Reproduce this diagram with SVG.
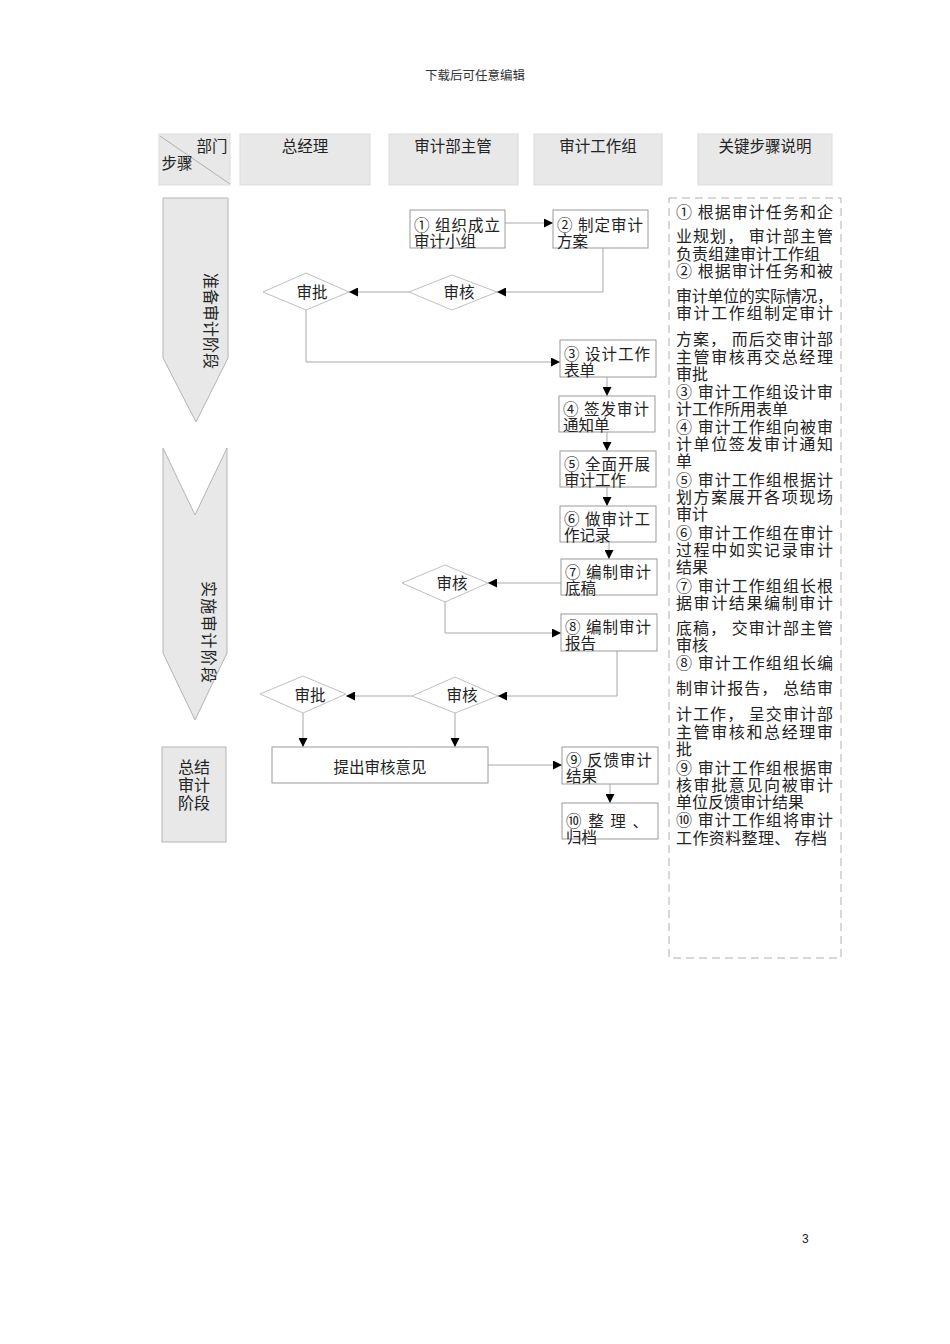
<svg xmlns="http://www.w3.org/2000/svg" width="950" height="1344" viewBox="0 0 950 1344">
<style>
text{font-family:"Noto Sans CJK SC","Noto Sans",sans-serif;fill:#222;}
.hd{fill:#e8e8e8;stroke:#dcdcdc;stroke-width:1}
.ht{font-size:15.5px;text-anchor:middle}
.stage{fill:#e8e8e8;stroke:#b4b4b4;stroke-width:1}
.st{font-size:16px}
.box{fill:#fff;stroke:#9a9a9a;stroke-width:1}
.dia{fill:#fff;stroke:#c0c0c0;stroke-width:1}
.bt{font-size:15.5px}
.dt{font-size:15.5px;text-anchor:middle}
.conn path{fill:none;stroke:#a8a8a8;stroke-width:1;marker-end:url(#ah)}
.note{fill:none;stroke:#b0b0b0;stroke-width:1;stroke-dasharray:8 5}
.nt{font-size:16px}
</style>
<defs>
<marker id="ah" viewBox="0 0 10 10" refX="10" refY="5" markerUnits="userSpaceOnUse" markerWidth="9" markerHeight="9" orient="auto">
<path d="M0,0 L10,5 L0,10 z" fill="#000"/>
</marker>
</defs>
<rect width="950" height="1344" fill="#fff"/>
<text x="475" y="80" style="font-size:12.5px;text-anchor:middle;fill:#333">下载后可任意编辑</text>
<text x="802" y="1243" style="font-family:'Liberation Sans',sans-serif;font-size:12px;fill:#222">3</text>

<g id="header">
<g id="h-corner">
<rect class="hd" x="159" y="134" width="71" height="51"/>
<line x1="160" y1="136" x2="230" y2="184" stroke="#b0b0b0" stroke-width="1"/>
<text class="ht" x="212" y="152">部门</text>
<text class="ht" x="177" y="169">步骤</text>
</g>
<g id="h-gm"><rect class="hd" x="240" y="134" width="130" height="51"/><text class="ht" x="305" y="152">总经理</text></g>
<g id="h-mgr"><rect class="hd" x="389" y="134" width="129" height="51"/><text class="ht" x="453" y="152">审计部主管</text></g>
<g id="h-team"><rect class="hd" x="534" y="134" width="128" height="51"/><text class="ht" x="598" y="152">审计工作组</text></g>
<g id="h-note"><rect class="hd" x="698" y="134" width="134" height="51"/><text class="ht" x="765" y="152">关键步骤说明</text></g>
</g>

<g id="stage1">
<polygon class="stage" points="163,198 228,198 228,358 196,422 163,358"/>
<text class="st" transform="translate(212,321) rotate(90)" text-anchor="middle" dominant-baseline="central">准备审计阶段</text>
</g>
<g id="stage2">
<polygon class="stage" points="163,448 195,515 227,448 227,653 195,720 163,653"/>
<text class="st" transform="translate(210,632) rotate(90)" text-anchor="middle" dominant-baseline="central" textLength="102" lengthAdjust="spacing">实施审计阶段</text>
</g>
<g id="stage3">
<rect class="stage" x="162" y="747" width="64" height="95"/>
<text class="st" x="194" y="773" text-anchor="middle">总结</text>
<text class="st" x="194" y="791" text-anchor="middle">审计</text>
<text class="st" x="194" y="809" text-anchor="middle">阶段</text>
</g>

<g id="connectors" class="conn">
<path d="M505,223 H553"/>
<path d="M603,248 V292 H497"/>
<path d="M409,292 H349"/>
<path d="M306,310 V362 H560"/>
<path d="M607,377 V396"/>
<path d="M607,432 V451"/>
<path d="M607,487 V506"/>
<path d="M609,542 V559"/>
<path d="M561,583 H488"/>
<path d="M445,602 V633 H561"/>
<path d="M617,651 V696 H498"/>
<path d="M412,696 H346"/>
<path d="M303,713 V747"/>
<path d="M455,713 V747"/>
<path d="M488,765 H562"/>
<path d="M610,784 V803"/>
</g>

<g id="n1"><rect class="box" x="410" y="210" width="95" height="38"/>
<text class="bt" x="414" y="231" textLength="86" lengthAdjust="spacing">① 组织成立</text><text class="bt" x="414" y="247">审计小组</text></g>
<g id="n2"><rect class="box" x="553" y="210" width="95" height="38"/>
<text class="bt" x="557" y="231" textLength="86" lengthAdjust="spacing">② 制定审计</text><text class="bt" x="557" y="247">方案</text></g>
<g id="d1"><polygon class="dia" points="409,292 452,275 497,292 452,310"/><text class="dt" x="459" y="298">审核</text></g>
<g id="d2"><polygon class="dia" points="263,292 306,273 349,292 306,310"/><text class="dt" x="312" y="298">审批</text></g>
<g id="n3"><rect class="box" x="560" y="340" width="96" height="37"/>
<text class="bt" x="564" y="360" textLength="86" lengthAdjust="spacing">③ 设计工作</text><text class="bt" x="564" y="376">表单</text></g>
<g id="n4"><rect class="box" x="559" y="396" width="96" height="36"/>
<text class="bt" x="563" y="415" textLength="86" lengthAdjust="spacing">④ 签发审计</text><text class="bt" x="563" y="431">通知单</text></g>
<g id="n5"><rect class="box" x="560" y="451" width="96" height="36"/>
<text class="bt" x="564" y="470" textLength="86" lengthAdjust="spacing">⑤ 全面开展</text><text class="bt" x="564" y="486">审计工作</text></g>
<g id="n6"><rect class="box" x="560" y="506" width="96" height="36"/>
<text class="bt" x="564" y="525" textLength="86" lengthAdjust="spacing">⑥ 做审计工</text><text class="bt" x="564" y="541">作记录</text></g>
<g id="n7"><rect class="box" x="561" y="559" width="96" height="36"/>
<text class="bt" x="565" y="578" textLength="86" lengthAdjust="spacing">⑦ 编制审计</text><text class="bt" x="565" y="594">底稿</text></g>
<g id="d3"><polygon class="dia" points="402,583 445,565 488,583 445,602"/><text class="dt" x="452" y="589">审核</text></g>
<g id="n8"><rect class="box" x="561" y="614" width="96" height="37"/>
<text class="bt" x="565" y="633" textLength="86" lengthAdjust="spacing">⑧ 编制审计</text><text class="bt" x="565" y="649">报告</text></g>
<g id="d4"><polygon class="dia" points="412,696 455,677 498,696 455,713"/><text class="dt" x="462" y="701">审核</text></g>
<g id="d5"><polygon class="dia" points="260,694 303,676 346,694 303,713"/><text class="dt" x="310" y="701">审批</text></g>
<g id="n11"><rect class="box" x="272" y="747" width="216" height="36"/>
<text class="dt" x="380" y="773">提出审核意见</text></g>
<g id="n9"><rect class="box" x="562" y="747" width="96" height="37"/>
<text class="bt" x="566" y="766" textLength="86" lengthAdjust="spacing">⑨ 反馈审计</text><text class="bt" x="566" y="782">结果</text></g>
<g id="n10"><rect class="box" x="562" y="803" width="96" height="36"/>
<text class="bt" x="566" y="827" textLength="82" lengthAdjust="spacing">⑩ 整 理 、</text><text class="bt" x="566" y="843">归档</text></g>

<g id="notes">
<rect class="note" x="669" y="198" width="172" height="760"/>
<text class="nt" x="676" y="218" textLength="157" lengthAdjust="spacing">① 根据审计任务和企</text>
<text class="nt" x="676" y="242" textLength="157" lengthAdjust="spacing">业规划， 审计部主管</text>
<text class="nt" x="676" y="260">负责组建审计工作组</text>
<text class="nt" x="676" y="277" textLength="157" lengthAdjust="spacing">② 根据审计任务和被</text>
<text class="nt" x="676" y="302" textLength="157" lengthAdjust="spacing">审计单位的实际情况，</text>
<text class="nt" x="676" y="319" textLength="157" lengthAdjust="spacing">审计工作组制定审计</text>
<text class="nt" x="676" y="345" textLength="157" lengthAdjust="spacing">方案， 而后交审计部</text>
<text class="nt" x="676" y="363" textLength="157" lengthAdjust="spacing">主管审核再交总经理</text>
<text class="nt" x="676" y="380">审批</text>
<text class="nt" x="676" y="398" textLength="157" lengthAdjust="spacing">③ 审计工作组设计审</text>
<text class="nt" x="676" y="415">计工作所用表单</text>
<text class="nt" x="676" y="433" textLength="157" lengthAdjust="spacing">④ 审计工作组向被审</text>
<text class="nt" x="676" y="450" textLength="157" lengthAdjust="spacing">计单位签发审计通知</text>
<text class="nt" x="676" y="467">单</text>
<text class="nt" x="676" y="486" textLength="157" lengthAdjust="spacing">⑤ 审计工作组根据计</text>
<text class="nt" x="676" y="503" textLength="157" lengthAdjust="spacing">划方案展开各项现场</text>
<text class="nt" x="676" y="520">审计</text>
<text class="nt" x="676" y="539" textLength="157" lengthAdjust="spacing">⑥ 审计工作组在审计</text>
<text class="nt" x="676" y="556" textLength="157" lengthAdjust="spacing">过程中如实记录审计</text>
<text class="nt" x="676" y="573">结果</text>
<text class="nt" x="676" y="592" textLength="157" lengthAdjust="spacing">⑦ 审计工作组组长根</text>
<text class="nt" x="676" y="609" textLength="157" lengthAdjust="spacing">据审计结果编制审计</text>
<text class="nt" x="676" y="634" textLength="157" lengthAdjust="spacing">底稿， 交审计部主管</text>
<text class="nt" x="676" y="651">审核</text>
<text class="nt" x="676" y="669" textLength="157" lengthAdjust="spacing">⑧ 审计工作组组长编</text>
<text class="nt" x="676" y="694" textLength="157" lengthAdjust="spacing">制审计报告， 总结审</text>
<text class="nt" x="676" y="720" textLength="157" lengthAdjust="spacing">计工作， 呈交审计部</text>
<text class="nt" x="676" y="738" textLength="157" lengthAdjust="spacing">主管审核和总经理审</text>
<text class="nt" x="676" y="755">批</text>
<text class="nt" x="676" y="774" textLength="157" lengthAdjust="spacing">⑨ 审计工作组根据审</text>
<text class="nt" x="676" y="791" textLength="157" lengthAdjust="spacing">核审批意见向被审计</text>
<text class="nt" x="676" y="808">单位反馈审计结果</text>
<text class="nt" x="676" y="826" textLength="157" lengthAdjust="spacing">⑩ 审计工作组将审计</text>
<text class="nt" x="676" y="844" textLength="151" lengthAdjust="spacing">工作资料整理、 存档</text>
</g>
</svg>
